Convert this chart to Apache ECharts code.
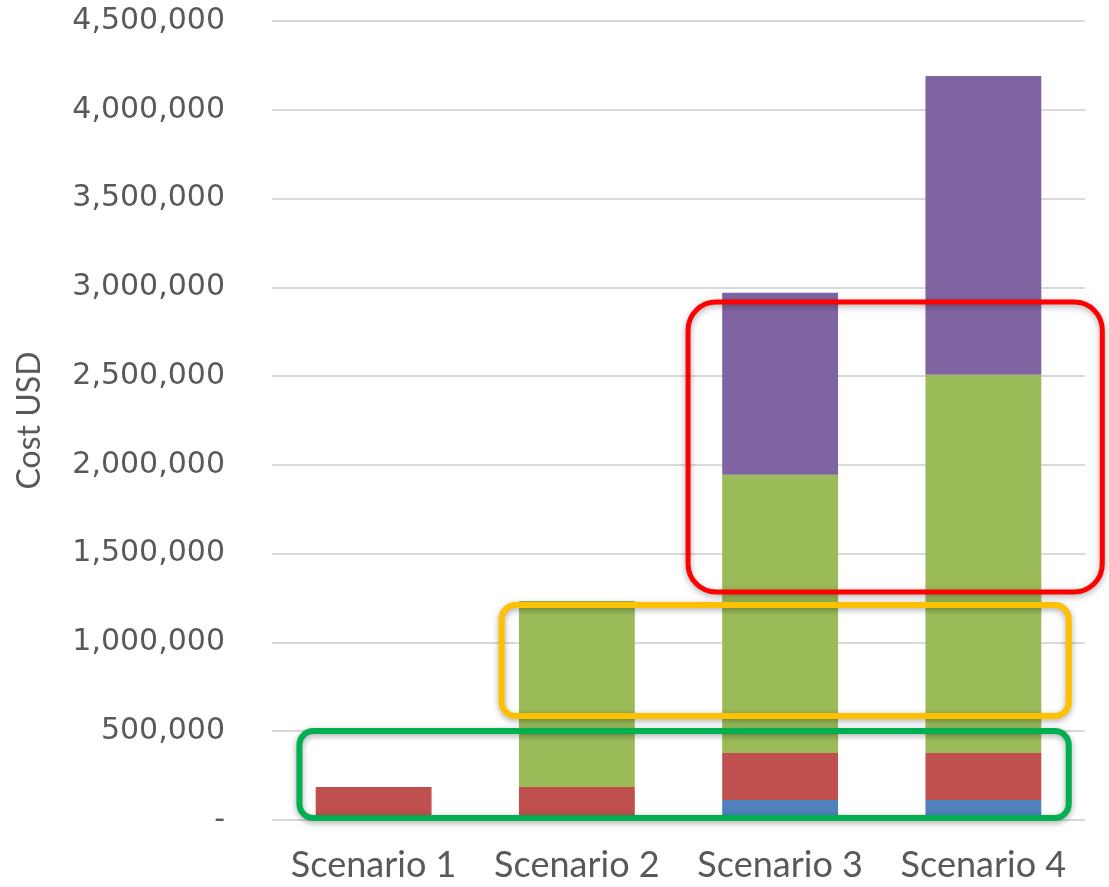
<!DOCTYPE html>
<html><head><meta charset="utf-8">
<script src="https://cdn.jsdelivr.net/npm/echarts@6/dist/echarts.min.js"></script>
<style>html,body{margin:0;padding:0;background:#fff}#c{width:1109px;height:887px}</style>
</head><body><div id="c"></div>
<script>
const categories = ['Scenario 1', 'Scenario 2', 'Scenario 3', 'Scenario 4'];
const seriesBlue = [10000, 10000, 113000, 113000];
const seriesRed = [176000, 176000, 264000, 264000];
const seriesGreen = [0, 1047000, 1568000, 2130000];
const seriesPurple = [0, 0, 1025000, 1683000];
const yTicks = { min: 0, max: 4500000, interval: 500000 };
// annotation boxes: x in category-index units, y in data units
const boxes = [
  { x0: 1.547, x1: 3.585, y0: 2917000, y1: 1284000, color: '#ff0000', w: 5, r: 28 },
  { x0: 0.63, x1: 3.42, y0: 1211000, y1: 586000, color: '#ffc000', w: 6, r: 14 },
  { x0: -0.365, x1: 3.42, y0: 501000, y1: 11000, color: '#00b050', w: 6, r: 14 }
];

const chart = echarts.init(document.getElementById('c'), null, { renderer: 'canvas' });
const mk = (name, data, color) => ({
  name, type: 'bar', stack: 'total', data, barWidth: '57%',
  itemStyle: { color }, emphasis: { disabled: true }
});
chart.setOption({
  animation: false,
  grid: { left: 272, right: 24, top: 21, bottom: 67 },
  xAxis: {
    type: 'category', data: categories,
    axisLine: { show: false }, axisTick: { show: false },
    axisLabel: { color: '#595959', fontSize: 36, fontFamily: 'Lato', margin: 27, interval: 0, hideOverlap: false }
  },
  yAxis: {
    type: 'value', min: yTicks.min, max: yTicks.max, interval: yTicks.interval,
    name: 'Cost USD', nameLocation: 'middle', nameGap: 226, nameRotate: 90,
    nameTextStyle: { color: '#595959', fontSize: 32, fontFamily: 'Lato' },
    axisLine: { show: false }, axisTick: { show: false },
    splitLine: { lineStyle: { color: '#d9d9d9', width: 2 } },
    axisLabel: {
      color: '#595959', fontSize: 30, fontFamily: 'DejaVu Sans', margin: 47,
      formatter: v => v === 0 ? '-' : v.toLocaleString('en-US')
    }
  },
  series: [
    mk('Blue', seriesBlue, '#4f81bd'),
    mk('Red', seriesRed, '#c0504d'),
    mk('Green', seriesGreen, '#9bbb59'),
    mk('Purple', seriesPurple, '#8064a2')
  ]
});

const c0 = chart.convertToPixel({ xAxisIndex: 0 }, categories[0]);
const c1 = chart.convertToPixel({ xAxisIndex: 0 }, categories[1]);
const step = c1 - c0;
const px = f => c0 + f * step;
const py = v => chart.convertToPixel({ yAxisIndex: 0 }, v);
chart.setOption({
  graphic: boxes.map(b => ({
    type: 'rect', z: 100,
    shape: { x: px(b.x0), y: py(b.y0), width: px(b.x1) - px(b.x0), height: py(b.y1) - py(b.y0), r: b.r },
    style: { fill: 'none', stroke: b.color, lineWidth: b.w, shadowBlur: 6, shadowColor: 'rgba(0,0,0,0.35)', shadowOffsetY: 2 }
  }))
});
</script></body></html>
